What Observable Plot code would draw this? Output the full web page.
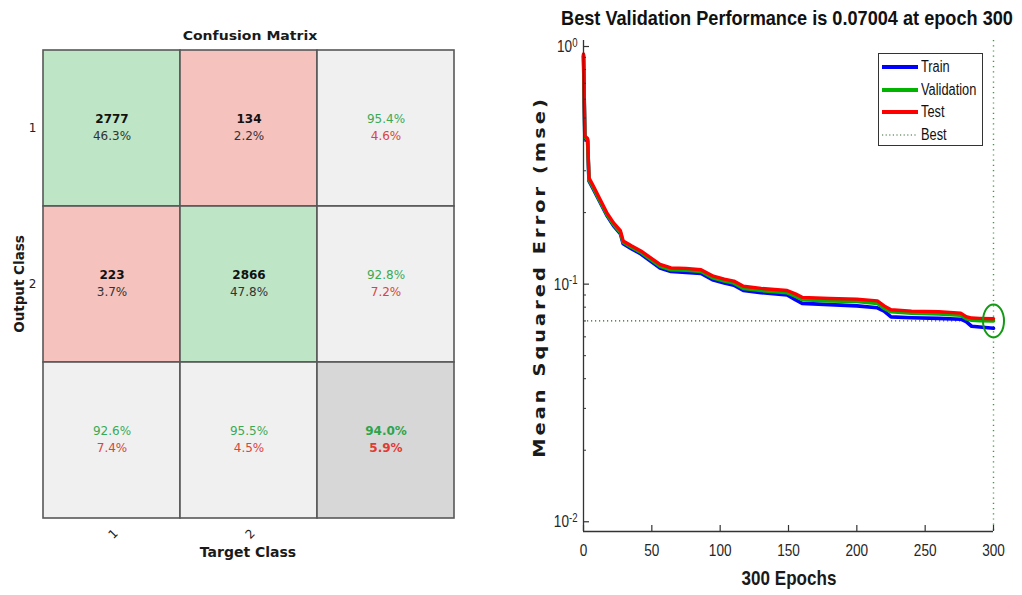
<!DOCTYPE html>
<html><head><meta charset="utf-8">
<script src="https://cdn.jsdelivr.net/npm/d3@7"></script>
<script src="https://cdn.jsdelivr.net/npm/@observablehq/plot@0.6"></script>
<style>
body{margin:0;background:#fff;}
#wrap{position:relative;width:1022px;height:595px;overflow:hidden;background:#fff;}
#wrap > svg{position:absolute;top:0;}
.lbl{position:absolute;white-space:nowrap;transform:translate(-50%,-50%);color:#1a1a1a;line-height:1.2;}
.narrow{font-family:"Liberation Sans",Arial,sans-serif;}
.dv{font-family:"DejaVu Sans",sans-serif;}
#legend{position:absolute;left:878px;top:53px;width:105px;height:93px;border:1px solid #333;background:#fff;box-sizing:border-box;}
.lrow{position:absolute;left:3px;height:20px;display:flex;align-items:center;font-size:16px;color:#111;white-space:nowrap;}
.lrow svg{margin-right:3px;flex:none;}
.lrow span{display:inline-block;transform-origin:0 50%;}
</style></head><body><div id="wrap"></div>
<script>
// ---------- Confusion matrix data ----------
const classes = ["1", "2"];
const confusionCounts = [[2777, 134], [223, 2866]];      // rows: output class, cols: target class
const confusionPct = [[46.3, 2.2], [3.7, 47.8]];
const outputCorrectPct = [95.4, 92.8];
const outputWrongPct = [4.6, 7.2];
const targetCorrectPct = [92.6, 95.5];
const targetWrongPct = [7.4, 4.5];
const overallCorrectPct = 94.0;
const overallWrongPct = 5.9;

// ---------- Performance data ----------
const epochs   = [0, 1, 3, 4, 7, 12, 17, 22, 27, 29, 35, 42, 50, 56, 64, 75, 86, 95, 103, 110, 117, 130, 149, 155, 160, 180, 200, 215, 220, 225, 240, 260, 276, 280, 284, 290, 300];
const trainMse = [0.91, 0.41, 0.40, 0.272, 0.252, 0.222, 0.195, 0.176, 0.163, 0.148, 0.141, 0.134, 0.124, 0.117, 0.113, 0.112, 0.111, 0.104, 0.101, 0.099, 0.094, 0.092, 0.090, 0.086, 0.083, 0.082, 0.081, 0.0795, 0.077, 0.0728, 0.0722, 0.0718, 0.0712, 0.0695, 0.0665, 0.066, 0.0652];
const valMse   = [0.92, 0.415, 0.405, 0.275, 0.255, 0.224, 0.197, 0.178, 0.165, 0.15, 0.143, 0.136, 0.126, 0.119, 0.115, 0.1145, 0.113, 0.106, 0.103, 0.101, 0.096, 0.094, 0.092, 0.089, 0.086, 0.085, 0.0845, 0.083, 0.079, 0.0765, 0.0755, 0.075, 0.074, 0.0715, 0.0705, 0.0702, 0.07004];
const testMse  = [0.93, 0.42, 0.41, 0.28, 0.26, 0.228, 0.2, 0.181, 0.168, 0.152, 0.145, 0.138, 0.128, 0.121, 0.117, 0.1165, 0.115, 0.108, 0.105, 0.103, 0.098, 0.096, 0.094, 0.091, 0.088, 0.087, 0.0865, 0.085, 0.081, 0.078, 0.077, 0.0765, 0.0755, 0.073, 0.072, 0.0718, 0.0715];
const bestEpoch = 300;
const bestPerf = 0.07004;
const xTicks = [0, 50, 100, 150, 200, 250, 300];
const yMajor = [0.01, 0.1, 1];
const yMinor = [0.02,0.03,0.04,0.05,0.06,0.07,0.08,0.09,0.2,0.3,0.4,0.5,0.6,0.7,0.8,0.9];

const wrap = document.getElementById("wrap");
const pct = v => v.toFixed(1) + "%";

// ---------- Confusion matrix ----------
const SUM = "all";
const bands = [...classes, SUM];
const cells = [];
classes.forEach((r, i) => classes.forEach((c, j) => cells.push({
  row: r, col: c, kind: i === j ? "correct" : "wrong",
  line1: String(confusionCounts[i][j]), line2: pct(confusionPct[i][j])
})));
classes.forEach((r, i) => cells.push({row: r, col: SUM, kind: "summary", line1: pct(outputCorrectPct[i]), line2: pct(outputWrongPct[i])}));
classes.forEach((c, j) => cells.push({row: SUM, col: c, kind: "summary", line1: pct(targetCorrectPct[j]), line2: pct(targetWrongPct[j])}));
cells.push({row: SUM, col: SUM, kind: "total", line1: pct(overallCorrectPct), line2: pct(overallWrongPct)});

const inner = cells.filter(d => d.kind === "correct" || d.kind === "wrong");
const summ = cells.filter(d => d.kind === "summary");
const tot = cells.filter(d => d.kind === "total");

const cm = Plot.plot({
  width: 480, height: 595,
  marginLeft: 42, marginTop: 49, marginRight: 26, marginBottom: 76,
  x: {domain: bands, padding: 0},
  y: {domain: bands, padding: 0},
  color: {domain: ["correct", "wrong", "summary", "total"], range: ["#bde5c6", "#f5c2be", "#f0f0f0", "#d7d7d7"]},
  style: {fontFamily: "DejaVu Sans, sans-serif", fontSize: "12px", color: "#222", background: "transparent"},
  marks: [
    Plot.cell(cells, {x: "col", y: "row", fill: "kind", stroke: "#585858", strokeWidth: 1.6}),
    Plot.text(inner, {x: "col", y: "row", text: "line1", dy: -9, fontWeight: "bold", fill: "#111", fontSize: 12}),
    Plot.text(inner, {x: "col", y: "row", text: "line2", dy: 8, fill: "#333", fontSize: 12}),
    Plot.text(summ, {x: "col", y: "row", text: "line1", dy: -9, fill: "#3aaa55", fontSize: 12}),
    Plot.text(summ, {x: "col", y: "row", text: "line2", dy: 8, fill: "#d9453c", fontSize: 12}),
    Plot.text(tot, {x: "col", y: "row", text: "line1", dy: -9, fill: "#2ea44a", fontWeight: "bold", fontSize: 12}),
    Plot.text(tot, {x: "col", y: "row", text: "line2", dy: 8, fill: "#e03a32", fontWeight: "bold", fontSize: 12}),
    Plot.axisY({ticks: classes, tickSize: 0, tickPadding: 6, label: null, fontSize: 12}),
    Plot.axisX({ticks: classes, tickSize: 0, tickPadding: 12, tickRotate: -45, label: null, fontSize: 12, dx: 4})
  ]
});
cm.style.left = "0px";
wrap.appendChild(cm);

// ---------- Performance plot ----------
const rows = (vals) => epochs.map((e, i) => ({epoch: e, mse: vals[i]}));
const yMin = 0.0091, yMax = 1.06;
const k = 0.5523;
const ellipse = {draw(ctx) {
  const rx = 10.5, ry = 16.5;
  ctx.moveTo(rx, 0);
  ctx.bezierCurveTo(rx, ry * k, rx * k, ry, 0, ry);
  ctx.bezierCurveTo(-rx * k, ry, -rx, ry * k, -rx, 0);
  ctx.bezierCurveTo(-rx, -ry * k, -rx * k, -ry, 0, -ry);
  ctx.bezierCurveTo(rx * k, -ry, rx, -ry * k, rx, 0);
  ctx.closePath();
}};
const expo = {"0.01": "-2", "0.1": "-1", "1": "0"};

const perf = Plot.plot({
  width: 542, height: 595,
  marginLeft: 103, marginRight: 29, marginTop: 40, marginBottom: 64,
  x: {domain: [0, 300]},
  y: {type: "log", domain: [yMin, yMax]},
  style: {fontFamily: "'Liberation Sans', Arial, sans-serif", fontSize: "17px", color: "#262626", background: "transparent"},
  marks: [
    Plot.ruleY([bestPerf], {stroke: "#2d5f2d", strokeDasharray: "1.2,2.8", strokeWidth: 1.2}),
    Plot.ruleX([bestEpoch], {stroke: "#3c9a3c", strokeDasharray: "1.2,4", strokeWidth: 1.4}),
    Plot.line(rows(trainMse), {x: "epoch", y: "mse", stroke: "#0000ff", strokeWidth: 3.6}),
    Plot.line(rows(valMse), {x: "epoch", y: "mse", stroke: "#00b400", strokeWidth: 3.6}),
    Plot.line(rows(testMse), {x: "epoch", y: "mse", stroke: "#ff0000", strokeWidth: 3.4}),
    Plot.dot([{epoch: bestEpoch, mse: bestPerf}], {x: "epoch", y: "mse", symbol: ellipse, r: 10, stroke: "#139a13", strokeWidth: 2, fill: "none"}),
    Plot.ruleX([0], {stroke: "#333", strokeWidth: 1.3}),
    Plot.ruleY([yMin], {stroke: "#333", strokeWidth: 1.6}),
    Plot.tickX(xTicks, {x: d => d, insetTop: 485, stroke: "#333", strokeWidth: 1.2}),
    Plot.tickY(yMajor, {y: d => d, insetRight: 404, stroke: "#333", strokeWidth: 1.2}),
    Plot.tickY(yMinor, {y: d => d, insetRight: 407, stroke: "#333", strokeWidth: 1}),
    Plot.axisX({ticks: xTicks, tickSize: 0, tickPadding: 12, label: null, fontSize: 17}),
    Plot.axisY({ticks: yMajor, tickSize: 0, tickPadding: 6, label: null, fontSize: 17, tickFormat: d => expo[String(d)]})
  ]
});
perf.style.left = "480px";
wrap.appendChild(perf);
// narrow the tick labels (MATLAB-like condensed face)
d3.select(perf).selectAll('g[aria-label="x-axis tick label"] text, g[aria-label="y-axis tick label"] text').each(function() {
  const tr = this.getAttribute("transform") || "";
  this.setAttribute("transform", tr + " scale(0.8,1)");
});
d3.select(perf).selectAll('g[aria-label="y-axis tick label"] text').each(function() {
  const e = this.textContent;
  this.textContent = "";
  const t = d3.select(this);
  t.append("tspan").text("10");
  t.append("tspan").attr("dy", "-0.45em").attr("font-size", "12px").text(e);
});

// ---------- Titles, labels, legend ----------
function label(text, x, y, cls, style, rot, targetW) {
  const d = document.createElement("div");
  d.className = "lbl " + cls;
  d.textContent = text;
  d.style.left = x + "px";
  d.style.top = y + "px";
  Object.assign(d.style, style);
  wrap.appendChild(d);
  const s = targetW ? targetW / d.offsetWidth : 1;
  d.style.transform = "translate(-50%,-50%)" + (rot ? " rotate(-90deg)" : "") + ` scaleX(${s})`;
}
label("Confusion Matrix", 250, 36, "dv", {fontSize: "13px", fontWeight: "bold"}, false, 135);
label("Output Class", 19, 284, "dv", {fontSize: "13.5px", fontWeight: "bold"}, true);
label("Target Class", 248, 552, "dv", {fontSize: "14px", fontWeight: "bold"});
label("Best Validation Performance is 0.07004 at epoch 300", 787, 18, "narrow", {fontSize: "21px", fontWeight: "bold", color: "#111"}, false, 452);
label("300 Epochs", 789, 578, "narrow", {fontSize: "21px", fontWeight: "bold"}, false, 95);
label("Mean Squared Error  (mse)", 540, 277, "dv", {fontSize: "16px", fontWeight: "bold", letterSpacing: "2.6px"}, true, 362);

const legendNames = ["Train", "Validation", "Test", "Best"];
const legendColors = ["#0000ff", "#00b400", "#ff0000", "#2d6a2d"];
const leg = document.createElement("div");
leg.id = "legend";
leg.className = "narrow";
wrap.appendChild(leg);
legendNames.forEach((n, i) => {
  const r = document.createElement("div");
  r.className = "lrow";
  r.style.top = (3 + i * 22.7) + "px";
  const dotted = n === "Best";
  r.innerHTML = `<svg width="36" height="8"><line x1="0" x2="36" y1="4" y2="4" stroke="${legendColors[i]}" stroke-width="${dotted ? 1.2 : 4}" ${dotted ? 'stroke-dasharray="1.2,2.4"' : ''}/></svg><span>${n}</span>`;
  leg.appendChild(r);
  r.querySelector("span").style.transform = "scaleX(0.8)";
});
</script></body></html>
